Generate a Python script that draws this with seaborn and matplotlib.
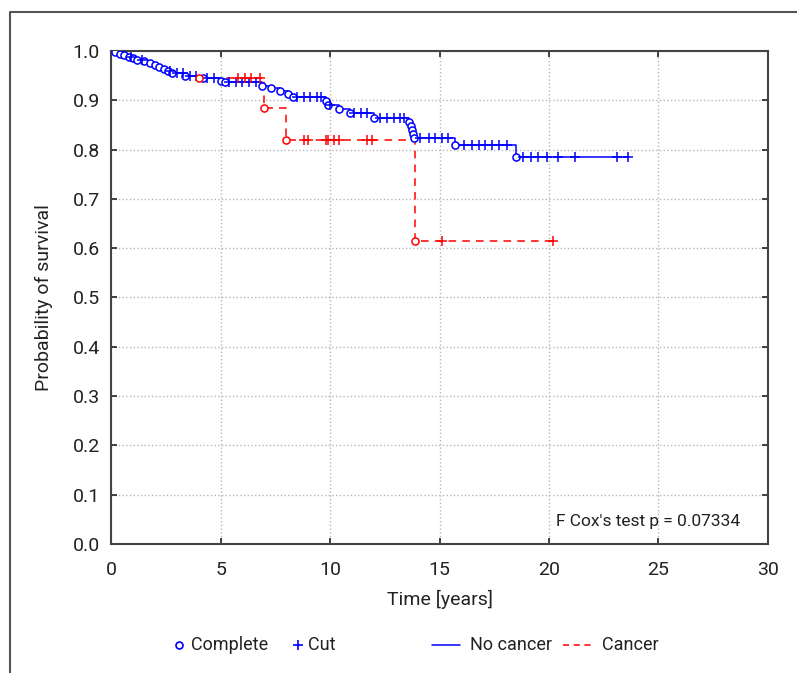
import numpy as np
import pandas as pd
import matplotlib
matplotlib.use("Agg")
import matplotlib.pyplot as plt
from matplotlib.lines import Line2D
import seaborn as sns

# Kaplan-Meier steps: event time -> survival after the event
nc_event_t = [0.2, 0.4, 0.6, 0.8, 1.0, 1.2, 1.5, 1.8, 2.0, 2.2, 2.4, 2.6, 2.8, 3.4, 4.2,
              5.0, 5.2, 6.9, 7.3, 7.7, 8.1, 8.3, 9.8, 9.9, 10.4, 10.9, 12.0,
              13.6, 13.7, 13.75, 13.8, 13.85, 15.7, 18.5]
nc_event_s = [0.997, 0.994, 0.991, 0.988, 0.985, 0.982, 0.979, 0.976, 0.972, 0.968, 0.964,
              0.960, 0.956, 0.950, 0.946, 0.940, 0.937, 0.930, 0.924, 0.919, 0.912, 0.906,
              0.898, 0.890, 0.882, 0.874, 0.864, 0.856, 0.848, 0.840, 0.832, 0.824,
              0.810, 0.786]
nc_cut_t = [0.9, 1.4, 2.7, 3.0, 3.3, 3.6, 3.9, 4.4, 4.7, 5.4, 5.7, 6.0, 6.3, 6.6, 8.5,
            8.8, 9.1, 9.4, 9.6, 10.0, 11.1, 11.4, 11.7, 12.3, 12.6, 12.9, 13.2, 13.4,
            14.1, 14.5, 14.8, 15.1, 15.4, 16.1, 16.5, 16.8, 17.1, 17.4, 17.7, 18.1,
            18.8, 19.2, 19.5, 19.9, 20.4, 21.2, 23.1, 23.6]

ca_event_t = [4.0, 7.0, 8.0, 13.9]
ca_event_s = [0.945, 0.885, 0.820, 0.614]
ca_cut_t = [5.8, 6.1, 6.4, 6.8, 8.8, 9.0, 9.8, 9.9, 10.2, 10.4, 11.7, 11.9, 15.1, 20.2]

x_ticks = [0, 5, 10, 15, 20, 25, 30]
y_ticks = [0.0, 0.1, 0.2, 0.3, 0.4, 0.5, 0.6, 0.7, 0.8, 0.9, 1.0]

BLUE = "#0000ff"
RED = "#ff0000"
TXT = "#222222"


def km_frame(ev_t, ev_s, cut_t, from_start=True):
    t = list(ev_t) + [max(cut_t)]
    s = list(ev_s) + [ev_s[-1]]
    if from_start:
        t = [0.0] + t
        s = [1.0] + s
    return pd.DataFrame({"time": t, "surv": s})


def surv_at(ev_t, ev_s, times):
    idx = np.searchsorted(ev_t, times, side="right")
    s = np.concatenate([[1.0], ev_s])
    return s[idx]


sns.set_style("ticks")
plt.rcParams["font.family"] = ["Roboto", "DejaVu Sans"]

fig = plt.figure(figsize=(7.97, 6.73), dpi=100)
ax = fig.add_axes([0.1393, 0.1917, 0.8243, 0.7325])

steps_nc = km_frame(nc_event_t, nc_event_s, nc_cut_t)
# the cancer curve is only visible from its first event on
steps_ca = km_frame(ca_event_t, ca_event_s, ca_cut_t, from_start=False)

sns.lineplot(data=steps_ca, x="time", y="surv", estimator=None, sort=False, ax=ax,
             color=RED, lw=1.1, drawstyle="steps-post", linestyle=(0, (5, 4)))
sns.lineplot(data=steps_nc, x="time", y="surv", estimator=None, sort=False, ax=ax,
             color=BLUE, lw=1.1, drawstyle="steps-post")

for ev_t, ev_s, cut_t, col in [(nc_event_t, nc_event_s, nc_cut_t, BLUE),
                               (ca_event_t, ca_event_s, ca_cut_t, RED)]:
    ev = pd.DataFrame({"time": ev_t, "surv": ev_s})
    sns.scatterplot(data=ev, x="time", y="surv", ax=ax, marker="o", s=26,
                    facecolor="white", edgecolor=col, linewidth=1.1, zorder=4)
    cu = pd.DataFrame({"time": cut_t, "surv": surv_at(ev_t, ev_s, cut_t)})
    sns.scatterplot(data=cu, x="time", y="surv", ax=ax, marker="+", s=45,
                    color=col, linewidth=1.1, zorder=4)

ax.set_xlim(0, 30)
ax.set_ylim(0, 1.0)
ax.set_xticks(x_ticks)
ax.set_yticks(y_ticks)
ax.set_yticklabels([f"{v:.1f}" for v in y_ticks])
ax.grid(True, linestyle=":", color="#b8b8b8", lw=1)
ax.tick_params(direction="in", top=True, right=True, length=4, width=1.2,
               labelsize=14, colors=TXT)
ax.tick_params(axis="x", pad=12)
ax.tick_params(axis="y", pad=8)
for sp in ax.spines.values():
    sp.set_color("#444444")
    sp.set_linewidth(1.5)
ax.set_xlabel("Time [years]", fontsize=14, color=TXT, labelpad=8)
ax.set_ylabel("Probability of survival", fontsize=14, color=TXT, labelpad=14)

ax.text(0.957, 0.045, "F Cox's test p = 0.07334", transform=ax.transAxes,
        ha="right", va="center", fontsize=12.5, color=TXT)

# legend row below the plot, laid out item by item
ly = 0.0416
fig.add_artist(Line2D([0.2246], [ly], marker="o", ls="none", mfc="white", mec=BLUE,
                      ms=5, mew=1.2, transform=fig.transFigure))
fig.text(0.2397, ly, "Complete", fontsize=13, color=TXT, va="center")
fig.add_artist(Line2D([0.3739], [ly], marker="+", ls="none", color=BLUE,
                      ms=7, mew=1.2, transform=fig.transFigure))
fig.text(0.3865, ly, "Cut", fontsize=13, color=TXT, va="center")
fig.add_artist(Line2D([0.542, 0.577], [ly, ly], color=BLUE, lw=1.1,
                      transform=fig.transFigure))
fig.text(0.5897, ly, "No cancer", fontsize=13, color=TXT, va="center")
fig.add_artist(Line2D([0.706, 0.745], [ly, ly], color=RED, lw=1.1, ls=(0, (4, 3)),
                      transform=fig.transFigure))
fig.text(0.7553, ly, "Cancer", fontsize=13, color=TXT, va="center")

# outer frame (open at right and bottom)
fig.add_artist(Line2D([0.0126, 0.0126, 1.0], [0.0, 0.982, 0.982],
                      transform=fig.transFigure, color="#555555", lw=1.5))

fig.savefig("out.png", dpi=100)
